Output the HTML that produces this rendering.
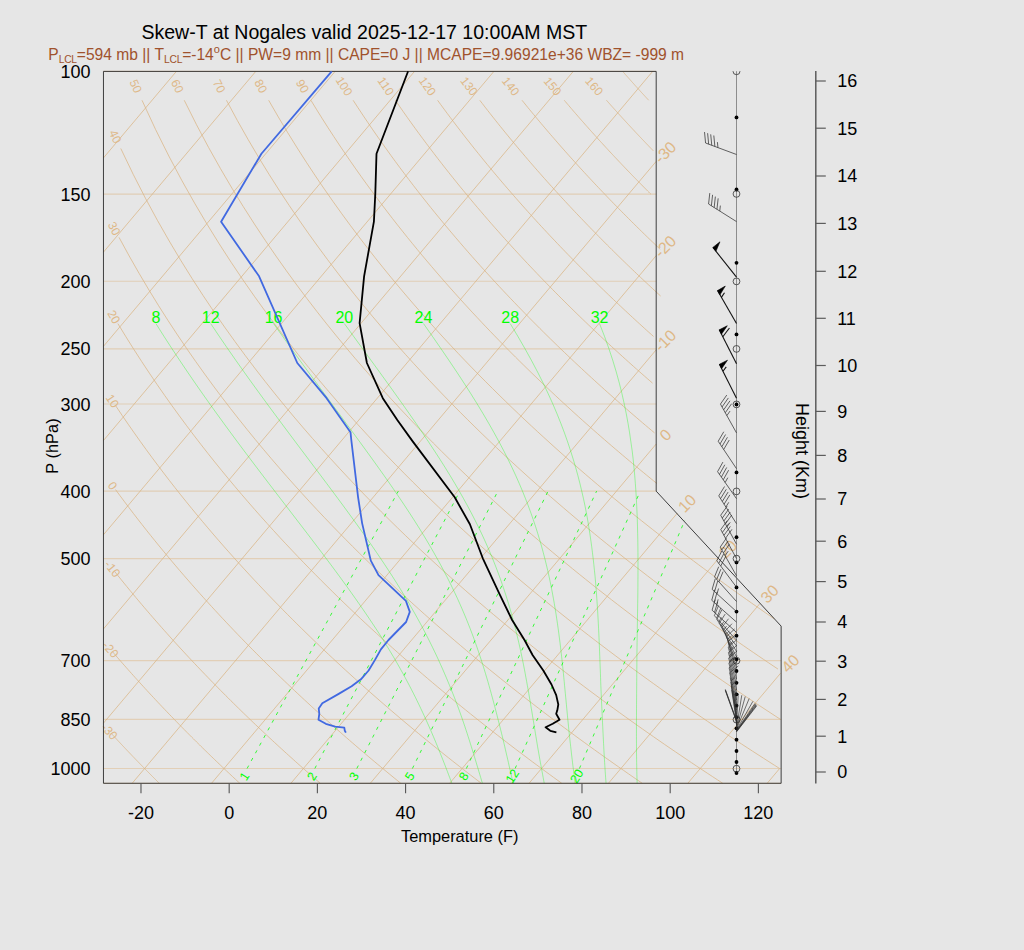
<!DOCTYPE html>
<html><head><meta charset="utf-8"><title>Skew-T</title>
<style>
html,body{margin:0;padding:0;background:#e6e6e6;}
body{width:1024px;height:950px;overflow:hidden;font-family:"Liberation Sans",sans-serif;}
svg{display:block;font-family:"Liberation Sans",sans-serif;}
</style></head><body>
<svg width="1024" height="950" viewBox="0 0 1024 950">
<rect width="1024" height="950" fill="#e6e6e6"/>
<line x1="103.46" y1="783.29" x2="781.13" y2="783.29" stroke="#DEB887" stroke-width="1.2" stroke-opacity="0.5"/>
<line x1="103.46" y1="768.52" x2="781.13" y2="768.52" stroke="#DEB887" stroke-width="1.2" stroke-opacity="0.5"/>
<line x1="103.46" y1="719.31" x2="781.13" y2="719.31" stroke="#DEB887" stroke-width="1.2" stroke-opacity="0.5"/>
<line x1="103.46" y1="660.53" x2="781.13" y2="660.53" stroke="#DEB887" stroke-width="1.2" stroke-opacity="0.5"/>
<line x1="103.46" y1="558.67" x2="718.33" y2="558.67" stroke="#DEB887" stroke-width="1.2" stroke-opacity="0.5"/>
<line x1="103.46" y1="491.11" x2="656.19" y2="491.11" stroke="#DEB887" stroke-width="1.2" stroke-opacity="0.5"/>
<line x1="103.46" y1="404.02" x2="656.19" y2="404.02" stroke="#DEB887" stroke-width="1.2" stroke-opacity="0.5"/>
<line x1="103.46" y1="348.82" x2="656.19" y2="348.82" stroke="#DEB887" stroke-width="1.2" stroke-opacity="0.5"/>
<line x1="103.46" y1="281.26" x2="656.19" y2="281.26" stroke="#DEB887" stroke-width="1.2" stroke-opacity="0.5"/>
<line x1="103.46" y1="194.17" x2="656.19" y2="194.17" stroke="#DEB887" stroke-width="1.2" stroke-opacity="0.5"/>
<line x1="103.46" y1="71.42" x2="656.19" y2="71.42" stroke="#DEB887" stroke-width="1.2" stroke-opacity="0.5"/>
<line x1="103.46" y1="157.92" x2="176.36" y2="71.42" stroke="#D9B380" stroke-width="0.8" stroke-opacity="0.9"/>
<line x1="103.46" y1="252.13" x2="255.74" y2="71.42" stroke="#D9B380" stroke-width="0.8" stroke-opacity="0.9"/>
<line x1="103.46" y1="346.33" x2="335.12" y2="71.42" stroke="#D9B380" stroke-width="0.8" stroke-opacity="0.9"/>
<line x1="103.46" y1="440.53" x2="414.5" y2="71.42" stroke="#D9B380" stroke-width="0.8" stroke-opacity="0.9"/>
<line x1="103.46" y1="534.74" x2="493.88" y2="71.42" stroke="#D9B380" stroke-width="0.8" stroke-opacity="0.9"/>
<line x1="103.46" y1="628.94" x2="573.26" y2="71.42" stroke="#D9B380" stroke-width="0.8" stroke-opacity="0.9"/>
<line x1="103.46" y1="723.14" x2="652.64" y2="71.42" stroke="#D9B380" stroke-width="0.8" stroke-opacity="0.9"/>
<line x1="132.16" y1="783.29" x2="656.19" y2="161.4" stroke="#D9B380" stroke-width="0.8" stroke-opacity="0.9"/>
<text x="656.19" y="161.4" font-size="16" fill="#DEB887" text-anchor="start" transform="rotate(-45 656.19 161.4)" dy="0.35em" dx="1.3">-30</text>
<line x1="211.54" y1="783.29" x2="656.19" y2="255.6" stroke="#D9B380" stroke-width="0.8" stroke-opacity="0.9"/>
<text x="656.19" y="255.6" font-size="16" fill="#DEB887" text-anchor="start" transform="rotate(-45 656.19 255.6)" dy="0.35em" dx="1.3">-20</text>
<line x1="290.92" y1="783.29" x2="656.19" y2="349.81" stroke="#D9B380" stroke-width="0.8" stroke-opacity="0.9"/>
<text x="656.19" y="349.81" font-size="16" fill="#DEB887" text-anchor="start" transform="rotate(-45 656.19 349.81)" dy="0.35em" dx="1.3">-10</text>
<line x1="370.3" y1="783.29" x2="656.19" y2="444.01" stroke="#D9B380" stroke-width="0.8" stroke-opacity="0.9"/>
<text x="656.19" y="444.01" font-size="16" fill="#DEB887" text-anchor="start" transform="rotate(-45 656.19 444.01)" dy="0.35em" dx="8.6">0</text>
<line x1="449.68" y1="783.29" x2="677.43" y2="513.01" stroke="#D9B380" stroke-width="0.8" stroke-opacity="0.9"/>
<text x="677.43" y="513.01" font-size="16" fill="#DEB887" text-anchor="start" transform="rotate(-45 677.43 513.01)" dy="0.35em" dx="4.8">10</text>
<line x1="529.06" y1="783.29" x2="718.33" y2="558.67" stroke="#D9B380" stroke-width="0.8" stroke-opacity="0.9"/>
<text x="718.33" y="558.67" font-size="16" fill="#DEB887" text-anchor="start" transform="rotate(-45 718.33 558.67)" dy="0.35em" dx="4.8">20</text>
<line x1="608.44" y1="783.29" x2="759.85" y2="603.6" stroke="#D9B380" stroke-width="0.8" stroke-opacity="0.9"/>
<text x="759.85" y="603.6" font-size="16" fill="#DEB887" text-anchor="start" transform="rotate(-45 759.85 603.6)" dy="0.35em" dx="4.8">30</text>
<line x1="687.82" y1="783.29" x2="780.55" y2="673.24" stroke="#D9B380" stroke-width="0.8" stroke-opacity="0.9"/>
<text x="780.55" y="673.24" font-size="16" fill="#DEB887" text-anchor="start" transform="rotate(-45 780.55 673.24)" dy="0.35em" dx="4.8">40</text>
<line x1="767.2" y1="783.29" x2="779.65" y2="768.52" stroke="#D9B380" stroke-width="0.8" stroke-opacity="0.9"/>
<polyline points="111.07,733.24 111.69,733.92 112.32,734.59 112.94,735.27 113.57,735.94 114.19,736.62 114.81,737.29 115.44,737.96 116.06,738.63 116.68,739.3 117.3,739.96 117.92,740.63 118.54,741.29 119.16,741.95 119.78,742.61 120.39,743.27 121.01,743.93 121.63,744.59 122.24,745.24 122.86,745.89 123.47,746.55 124.09,747.2 124.7,747.84 125.31,748.49 125.92,749.14 126.54,749.78 127.15,750.43 127.76,751.07 128.37,751.71 128.98,752.35 129.58,752.99 130.19,753.62 130.8,754.26 131.41,754.89 132.01,755.53 132.62,756.16 133.22,756.79 133.83,757.42 134.43,758.04 135.03,758.67 135.64,759.29 136.24,759.92 136.84,760.54 137.44,761.16 138.04,761.78 138.64,762.4 139.24,763.02 139.84,763.63 140.44,764.25 141.03,764.86 141.63,765.47 142.23,766.08 142.82,766.69 143.42,767.3 144.01,767.91 144.61,768.52 145.2,769.12 145.79,769.72 146.39,770.33 146.98,770.93 147.57,771.53 148.16,772.13 148.75,772.72 149.34,773.32 149.93,773.92 150.52,774.51 151.11,775.1 151.69,775.7 152.28,776.29 152.87,776.88 153.45,777.46 154.04,778.05 154.62,778.64 155.21,779.22 155.79,779.81 156.37,780.39 156.96,780.97 157.54,781.55 158.12,782.13 158.7,782.71 159.28,783.29 159.28,783.29" fill="none" stroke="#D9B380" stroke-width="0.8" stroke-opacity="0.9"/>
<text x="109.5" y="731.53" font-size="12" fill="#DEB887" text-anchor="middle" transform="rotate(47.43 109.5 731.53)" dy="0.35em">-30</text>
<polyline points="112.51,651.76 114.27,653.81 116.03,655.85 117.79,657.87 119.53,659.88 121.28,661.88 123.01,663.87 124.75,665.84 126.47,667.8 128.2,669.74 129.91,671.68 131.63,673.6 133.33,675.51 135.04,677.41 136.74,679.29 138.43,681.17 140.12,683.03 141.8,684.88 143.49,686.72 145.16,688.55 146.83,690.37 148.5,692.18 150.16,693.97 151.82,695.76 153.47,697.53 155.12,699.3 156.76,701.05 158.4,702.8 160.04,704.53 161.67,706.26 163.3,707.97 164.92,709.68 166.54,711.37 168.15,713.06 169.76,714.74 171.37,716.41 172.97,718.06 174.57,719.71 176.16,721.35 177.75,722.99 179.34,724.61 180.92,726.22 182.5,727.83 184.07,729.43 185.64,731.02 187.21,732.6 188.77,734.17 190.33,735.73 191.89,737.29 193.44,738.84 194.99,740.38 196.53,741.91 198.07,743.44 199.61,744.95 201.14,746.46 202.67,747.97 204.19,749.46 205.72,750.95 207.23,752.43 208.75,753.9 210.26,755.37 211.77,756.83 213.27,758.28 214.77,759.72 216.27,761.16 217.76,762.59 219.26,764.02 220.74,765.43 222.23,766.85 223.71,768.25 225.18,769.65 226.66,771.04 228.13,772.43 229.6,773.81 231.06,775.18 232.52,776.54 233.98,777.91 235.43,779.26 236.88,780.61 238.33,781.95 239.78,783.29 239.78,783.29" fill="none" stroke="#D9B380" stroke-width="0.8" stroke-opacity="0.9"/>
<text x="110.6" y="649.52" font-size="12" fill="#DEB887" text-anchor="middle" transform="rotate(49.48 110.6 649.52)" dy="0.35em">-20</text>
<polyline points="114.8,571.7 117.84,575.51 120.86,579.26 123.87,582.97 126.86,586.64 129.84,590.26 132.8,593.84 135.75,597.38 138.68,600.87 141.6,604.33 144.51,607.75 147.4,611.13 150.27,614.47 153.14,617.78 155.98,621.05 158.82,624.28 161.64,627.48 164.45,630.65 167.25,633.78 170.03,636.88 172.8,639.96 175.56,642.99 178.31,646 181.04,648.98 183.77,651.94 186.48,654.86 189.17,657.75 191.86,660.62 194.54,663.46 197.2,666.27 199.85,669.06 202.49,671.82 205.12,674.56 207.74,677.28 210.35,679.96 212.95,682.63 215.54,685.27 218.11,687.89 220.68,690.49 223.23,693.06 225.78,695.61 228.32,698.15 230.84,700.66 233.36,703.15 235.86,705.62 238.36,708.07 240.85,710.5 243.32,712.91 245.79,715.3 248.25,717.67 250.7,720.03 253.14,722.36 255.57,724.68 257.99,726.98 260.4,729.26 262.81,731.53 265.2,733.78 267.59,736.01 269.97,738.23 272.34,740.43 274.7,742.61 277.05,744.78 279.4,746.94 281.73,749.07 284.06,751.2 286.38,753.31 288.7,755.4 291,757.48 293.3,759.54 295.59,761.6 297.87,763.63 300.14,765.66 302.41,767.67 304.67,769.66 306.92,771.65 309.16,773.62 311.4,775.58 313.63,777.52 315.85,779.46 318.06,781.38 320.27,783.29 320.27,783.29" fill="none" stroke="#D9B380" stroke-width="0.8" stroke-opacity="0.9"/>
<text x="112.49" y="568.79" font-size="12" fill="#DEB887" text-anchor="middle" transform="rotate(51.61 112.49 568.79)" dy="0.35em">-10</text>
<polyline points="115.53,489.59 120.04,495.73 124.52,501.75 128.97,507.64 133.38,513.43 137.76,519.11 142.11,524.68 146.42,530.15 150.7,535.52 154.96,540.8 159.18,545.99 163.37,551.1 167.53,556.11 171.66,561.05 175.77,565.91 179.84,570.69 183.89,575.39 187.91,580.03 191.91,584.59 195.87,589.09 199.82,593.52 203.73,597.88 207.63,602.19 211.5,606.43 215.34,610.62 219.16,614.75 222.96,618.82 226.73,622.84 230.48,626.8 234.21,630.72 237.91,634.58 241.6,638.4 245.26,642.17 248.9,645.89 252.52,649.57 256.13,653.2 259.71,656.79 263.27,660.34 266.81,663.85 270.33,667.31 273.83,670.74 277.31,674.13 280.78,677.48 284.23,680.79 287.66,684.07 291.07,687.32 294.46,690.53 297.84,693.7 301.19,696.84 304.54,699.96 307.86,703.03 311.17,706.08 314.46,709.1 317.74,712.09 321,715.05 324.24,717.98 327.47,720.88 330.69,723.75 333.89,726.6 337.07,729.42 340.24,732.21 343.39,734.98 346.53,737.73 349.66,740.45 352.77,743.14 355.87,745.81 358.95,748.46 362.02,751.08 365.08,753.69 368.12,756.27 371.15,758.83 374.17,761.36 377.18,763.88 380.17,766.37 383.15,768.85 386.12,771.3 389.07,773.74 392.01,776.15 394.94,778.55 397.86,780.93 400.77,783.29 400.77,783.29" fill="none" stroke="#D9B380" stroke-width="0.8" stroke-opacity="0.9"/>
<text x="112.74" y="485.77" font-size="12" fill="#DEB887" text-anchor="middle" transform="rotate(54 112.74 485.77)" dy="0.35em">0</text>
<polyline points="115.85,406.03 122.04,415.26 128.18,424.22 134.25,432.92 140.25,441.38 146.19,449.6 152.07,457.61 157.9,465.42 163.66,473.02 169.37,480.44 175.02,487.69 180.62,494.76 186.16,501.67 191.66,508.43 197.1,515.04 202.49,521.51 207.84,527.84 213.13,534.05 218.38,540.13 223.59,546.09 228.75,551.93 233.87,557.67 238.94,563.29 243.98,568.82 248.97,574.25 253.92,579.58 258.83,584.81 263.71,589.96 268.55,595.03 273.35,600 278.11,604.9 282.84,609.72 287.53,614.47 292.19,619.14 296.82,623.74 301.41,628.28 305.97,632.74 310.5,637.14 314.99,641.48 319.46,645.76 323.89,649.97 328.3,654.13 332.68,658.23 337.02,662.28 341.34,666.27 345.64,670.22 349.9,674.11 354.14,677.95 358.35,681.74 362.54,685.49 366.7,689.19 370.83,692.85 374.94,696.46 379.02,700.03 383.09,703.56 387.12,707.05 391.14,710.5 395.13,713.91 399.1,717.28 403.04,720.61 406.97,723.91 410.87,727.17 414.75,730.4 418.61,733.59 422.45,736.75 426.27,739.88 430.07,742.98 433.85,746.04 437.6,749.07 441.34,752.08 445.06,755.05 448.77,758 452.45,760.91 456.11,763.8 459.76,766.66 463.39,769.5 467,772.31 470.59,775.09 474.16,777.85 477.72,780.58 481.26,783.29 481.26,783.29" fill="none" stroke="#D9B380" stroke-width="0.8" stroke-opacity="0.9"/>
<text x="112.5" y="400.97" font-size="12" fill="#DEB887" text-anchor="middle" transform="rotate(56.61 112.5 400.97)" dy="0.35em">10</text>
<polyline points="117.87,323.58 125.93,336.78 133.87,349.42 141.71,361.57 149.44,373.24 157.07,384.48 164.6,395.32 172.03,405.78 179.36,415.89 186.61,425.68 193.76,435.16 200.83,444.35 207.81,453.27 214.71,461.94 221.53,470.36 228.27,478.56 234.93,486.54 241.53,494.31 248.05,501.89 254.5,509.29 260.88,516.51 267.19,523.56 273.44,530.45 279.63,537.19 285.76,543.78 291.83,550.23 297.83,556.54 303.79,562.73 309.68,568.79 315.52,574.73 321.31,580.56 327.05,586.28 332.73,591.89 338.37,597.41 343.95,602.82 349.49,608.13 354.99,613.36 360.44,618.5 365.84,623.55 371.2,628.52 376.52,633.4 381.79,638.21 387.02,642.95 392.22,647.61 397.37,652.2 402.49,656.73 407.57,661.18 412.61,665.57 417.61,669.9 422.58,674.17 427.51,678.38 432.41,682.53 437.28,686.62 442.11,690.66 446.91,694.65 451.67,698.59 456.41,702.47 461.11,706.31 465.78,710.09 470.43,713.83 475.04,717.53 479.63,721.18 484.18,724.78 488.71,728.35 493.21,731.87 497.68,735.35 502.13,738.8 506.55,742.2 510.94,745.57 515.31,748.9 519.65,752.19 523.97,755.45 528.26,758.67 532.53,761.86 536.77,765.01 540.99,768.14 545.19,771.23 549.37,774.29 553.52,777.32 557.65,780.32 561.76,783.29 561.76,783.29" fill="none" stroke="#D9B380" stroke-width="0.8" stroke-opacity="0.9"/>
<text x="113.9" y="316.92" font-size="12" fill="#DEB887" text-anchor="middle" transform="rotate(59.29 113.9 316.92)" dy="0.35em">20</text>
<polyline points="119.03,237.36 129.18,255.96 139.17,273.48 148.99,290.05 158.64,305.75 168.14,320.68 177.48,334.91 186.67,348.5 195.71,361.51 204.62,373.98 213.39,385.95 222.03,397.48 230.54,408.57 238.93,419.28 247.2,429.62 255.35,439.62 263.4,449.3 271.34,458.68 279.17,467.78 286.9,476.61 294.54,485.19 302.08,493.53 309.53,501.65 316.89,509.56 324.17,517.27 331.36,524.79 338.47,532.12 345.5,539.28 352.45,546.28 359.33,553.11 366.14,559.8 372.87,566.34 379.54,572.75 386.14,579.02 392.67,585.16 399.14,591.18 405.55,597.09 411.9,602.88 418.19,608.56 424.42,614.14 430.59,619.61 436.71,624.99 442.77,630.28 448.78,635.47 454.74,640.58 460.65,645.6 466.51,650.54 472.32,655.4 478.09,660.19 483.81,664.9 489.48,669.53 495.11,674.1 500.69,678.6 506.23,683.04 511.73,687.41 517.19,691.71 522.61,695.96 527.99,700.15 533.33,704.28 538.63,708.36 543.9,712.38 549.13,716.35 554.32,720.27 559.48,724.13 564.6,727.95 569.69,731.72 574.74,735.45 579.76,739.13 584.75,742.76 589.7,746.35 594.63,749.9 599.52,753.41 604.39,756.88 609.22,760.31 614.02,763.7 618.8,767.06 623.55,770.37 628.26,773.65 632.95,776.9 637.62,780.11 642.25,783.29 642.25,783.29" fill="none" stroke="#D9B380" stroke-width="0.8" stroke-opacity="0.9"/>
<text x="114.34" y="228.48" font-size="12" fill="#DEB887" text-anchor="middle" transform="rotate(62.32 114.34 228.48)" dy="0.35em">30</text>
<polyline points="120.79,148.51 133.23,174.39 145.44,198.23 157.42,220.33 169.16,240.92 180.68,260.21 191.96,278.34 203.03,295.44 213.89,311.63 224.55,327 235.02,341.62 245.29,355.57 255.39,368.91 265.32,381.68 275.08,393.94 284.68,405.72 294.12,417.05 303.42,427.98 312.58,438.53 321.6,448.72 330.49,458.58 339.25,468.13 347.89,477.39 356.41,486.37 364.82,495.1 373.11,503.58 381.3,511.83 389.39,519.85 397.37,527.68 405.26,535.3 413.06,542.74 420.76,550 428.38,557.09 435.9,564.02 443.35,570.79 450.71,577.41 458,583.9 465.2,590.24 472.34,596.46 479.4,602.55 486.39,608.52 493.31,614.38 500.16,620.12 506.95,625.76 513.67,631.29 520.33,636.73 526.93,642.07 533.47,647.31 539.95,652.47 546.37,657.54 552.74,662.53 559.06,667.43 565.32,672.26 571.52,677.01 577.68,681.69 583.79,686.3 589.85,690.84 595.86,695.31 601.82,699.72 607.74,704.06 613.61,708.34 619.44,712.57 625.22,716.73 630.96,720.84 636.66,724.89 642.32,728.89 647.94,732.84 653.52,736.73 659.06,740.58 664.56,744.38 670.03,748.13 675.46,751.83 680.85,755.49 686.2,759.11 691.53,762.69 696.81,766.22 702.07,769.71 707.28,773.16 712.47,776.57 717.63,779.95 722.75,783.29 722.75,783.29" fill="none" stroke="#D9B380" stroke-width="0.8" stroke-opacity="0.9"/>
<text x="115.32" y="136.54" font-size="12" fill="#DEB887" text-anchor="middle" transform="rotate(65.63 115.32 136.54)" dy="0.35em">40</text>
<polyline points="142.01,100.27 155.55,129.44 168.83,156.04 181.84,180.49 194.57,203.12 207.03,224.17 219.23,243.85 231.18,262.33 242.88,279.75 254.35,296.22 265.6,311.83 276.63,326.69 287.45,340.84 298.08,354.37 308.51,367.32 318.77,379.73 328.85,391.66 338.76,403.13 348.51,414.19 358.11,424.85 367.57,435.16 376.88,445.12 386.05,454.77 395.09,464.12 404,473.18 412.79,481.99 421.46,490.54 430.02,498.86 438.46,506.96 446.8,514.85 455.03,522.54 463.17,530.03 471.2,537.35 479.15,544.49 486.99,551.47 494.75,558.29 502.43,564.96 510.02,571.49 517.53,577.88 524.96,584.13 532.31,590.26 539.58,596.27 546.78,602.16 553.91,607.94 560.98,613.61 567.97,619.18 574.9,624.65 581.76,630.01 588.56,635.29 595.29,640.48 601.97,645.57 608.59,650.59 615.15,655.52 621.65,660.37 628.1,665.15 634.5,669.85 640.84,674.48 647.13,679.04 653.37,683.53 659.56,687.96 665.7,692.32 671.8,696.62 677.85,700.87 683.85,705.05 689.8,709.17 695.72,713.24 701.59,717.26 707.42,721.22 713.2,725.13 718.95,729 724.65,732.81 730.32,736.58 735.95,740.3 741.53,743.97 747.09,747.6 752.6,751.19 758.08,754.73 763.52,758.24 768.93,761.7 774.31,765.13 779.65,768.52 779.65,768.52" fill="none" stroke="#D9B380" stroke-width="0.8" stroke-opacity="0.9"/>
<text x="135.85" y="86.19" font-size="12" fill="#DEB887" text-anchor="middle" transform="rotate(66.6 135.85 86.19)" dy="0.35em">50</text>
<polyline points="184.24,100.27 196.5,124.71 208.53,147.33 220.33,168.38 231.89,188.05 243.23,206.53 254.35,223.94 265.26,240.4 275.96,256.02 286.47,270.87 296.79,285.02 306.93,298.55 316.9,311.49 326.69,323.91 336.33,335.83 345.81,347.3 355.14,358.36 364.33,369.02 373.38,379.32 382.3,389.28 391.09,398.93 399.76,408.28 408.3,417.34 416.73,426.15 425.05,434.7 433.27,443.02 441.38,451.12 449.38,459 457.29,466.69 465.11,474.19 472.83,481.5 480.46,488.64 488.01,495.62 495.47,502.44 502.85,509.11 510.15,515.64 517.37,522.02 524.52,528.28 531.6,534.41 538.6,540.42 545.53,546.31 552.4,552.09 559.2,557.76 565.93,563.32 572.6,568.79 579.21,574.16 585.77,579.43 592.26,584.62 598.69,589.72 605.07,594.73 611.39,599.66 617.66,604.51 623.88,609.29 630.05,613.99 636.16,618.62 642.23,623.18 648.25,627.67 654.22,632.1 660.15,636.46 666.03,640.76 671.86,645 677.65,649.19 683.4,653.31 689.11,657.38 694.77,661.4 700.4,665.36 705.99,669.27 711.53,673.13 717.04,676.95 722.51,680.71 727.94,684.43 733.34,688.11 738.7,691.74 744.03,695.33 749.32,698.87 754.58,702.38 759.81,705.84 765,709.27 770.16,712.65 775.28,716 780.38,719.31 780.38,719.31" fill="none" stroke="#D9B380" stroke-width="0.8" stroke-opacity="0.9"/>
<text x="177.51" y="86.19" font-size="12" fill="#DEB887" text-anchor="middle" transform="rotate(64.72 177.51 86.19)" dy="0.35em">60</text>
<polyline points="226.46,100.27 237.4,120.56 248.15,139.58 258.7,157.47 269.07,174.36 279.25,190.36 289.26,205.56 299.09,220.03 308.76,233.84 318.27,247.04 327.62,259.7 336.83,271.85 345.89,283.53 354.81,294.77 363.6,305.61 372.26,316.08 380.8,326.2 389.21,335.99 397.51,345.47 405.7,354.67 413.78,363.59 421.75,372.26 429.62,380.69 437.4,388.89 445.08,396.87 452.66,404.65 460.16,412.23 467.57,419.63 474.9,426.85 482.14,433.9 489.3,440.79 496.39,447.53 503.4,454.13 510.34,460.58 517.2,466.89 524,473.08 530.73,479.15 537.39,485.09 543.99,490.92 550.52,496.64 556.99,502.26 563.41,507.77 569.76,513.18 576.06,518.5 582.3,523.73 588.49,528.87 594.62,533.92 600.71,538.89 606.74,543.78 612.72,548.59 618.65,553.32 624.53,557.99 630.37,562.58 636.16,567.1 641.91,571.56 647.61,575.95 653.27,580.28 658.89,584.55 664.46,588.76 670,592.91 675.49,597.01 680.94,601.05 686.36,605.03 691.74,608.97 697.08,612.85 702.38,616.69 707.65,620.48 712.88,624.22 718.08,627.91 723.24,631.57 728.37,635.17 733.47,638.74 738.54,642.26 743.57,645.74 748.57,649.19 753.54,652.59 758.48,655.96 763.39,659.29 768.27,662.58 773.12,665.84 777.95,669.06 777.95,669.06" fill="none" stroke="#D9B380" stroke-width="0.8" stroke-opacity="0.9"/>
<text x="219.18" y="86.19" font-size="12" fill="#DEB887" text-anchor="middle" transform="rotate(62.9 219.18 86.19)" dy="0.35em">70</text>
<polyline points="268.68,100.27 278.34,117 287.84,132.86 297.19,147.92 306.38,162.27 315.43,175.97 324.35,189.08 333.12,201.64 341.76,213.71 350.28,225.31 358.67,236.48 366.94,247.26 375.09,257.66 383.14,267.72 391.07,277.46 398.9,286.89 406.63,296.03 414.26,304.91 421.79,313.54 429.23,321.93 436.58,330.09 443.85,338.03 451.03,345.78 458.12,353.33 465.14,360.69 472.08,367.89 478.94,374.91 485.74,381.78 492.46,388.49 499.11,395.06 505.69,401.48 512.2,407.78 518.65,413.94 525.04,419.99 531.37,425.91 537.64,431.72 543.85,437.42 550,443.02 556.1,448.52 562.14,453.91 568.13,459.21 574.07,464.43 579.96,469.55 585.79,474.59 591.58,479.54 597.32,484.42 603.02,489.21 608.67,493.94 614.27,498.59 619.83,503.17 625.35,507.68 630.82,512.13 636.26,516.51 641.65,520.83 647,525.08 652.32,529.28 657.6,533.42 662.83,537.51 668.04,541.54 673.2,545.52 678.33,549.45 683.43,553.32 688.49,557.15 693.52,560.93 698.51,564.66 703.47,568.35 708.4,571.99 713.3,575.59 718.17,579.15 723,582.67 727.81,586.14 732.59,589.58 737.34,592.98 742.05,596.34 746.75,599.66 751.41,602.95 756.05,606.2 760.65,609.42 765.24,612.6 769.79,615.75 774.32,618.87 774.32,618.87" fill="none" stroke="#D9B380" stroke-width="0.8" stroke-opacity="0.9"/>
<text x="260.84" y="86.19" font-size="12" fill="#DEB887" text-anchor="middle" transform="rotate(61.14 260.84 86.19)" dy="0.35em">80</text>
<polyline points="310.91,100.27 316.71,109.75 322.46,118.95 328.15,127.87 333.79,136.54 339.37,144.97 344.9,153.17 350.37,161.15 355.8,168.93 361.17,176.51 366.49,183.91 371.77,191.13 376.99,198.18 382.17,205.07 387.3,211.81 392.39,218.4 397.43,224.85 402.44,231.17 407.39,237.36 412.31,243.42 417.19,249.37 422.02,255.2 426.82,260.92 431.58,266.53 436.3,272.04 440.99,277.46 445.64,282.77 450.25,288 454.83,293.14 459.37,298.19 463.88,303.16 468.36,308.05 472.8,312.86 477.22,317.59 481.6,322.26 485.95,326.85 490.28,331.37 494.57,335.83 498.83,340.22 503.07,344.55 507.27,348.82 511.45,353.03 515.6,357.18 519.73,361.28 523.83,365.32 527.9,369.3 531.95,373.24 535.97,377.12 539.97,380.96 543.94,384.75 547.89,388.49 551.82,392.18 555.72,395.83 559.6,399.44 563.46,403.01 567.29,406.53 571.11,410.01 574.9,413.46 578.67,416.86 582.42,420.23 586.15,423.56 589.86,426.85 593.55,430.11 597.22,433.33 600.87,436.52 604.5,439.68 608.11,442.8 611.7,445.89 615.28,448.95 618.84,451.98 622.37,454.98 625.89,457.95 629.4,460.89 632.88,463.8 636.35,466.69 639.8,469.55 643.24,472.38 646.66,475.18 650.06,477.96 653.45,480.72 656.82,483.45 656.82,483.45" fill="none" stroke="#D9B380" stroke-width="0.8" stroke-opacity="0.9"/>
<text x="302.51" y="86.19" font-size="12" fill="#DEB887" text-anchor="middle" transform="rotate(59.43 302.51 86.19)" dy="0.35em">90</text>
<polyline points="353.13,100.27 358,107.75 362.82,115.04 367.61,122.17 372.35,129.13 377.06,135.93 381.73,142.58 386.36,149.09 390.95,155.47 395.51,161.71 400.03,167.83 404.52,173.82 408.97,179.7 413.39,185.47 417.77,191.13 422.12,196.68 426.44,202.14 430.73,207.5 434.99,212.76 439.22,217.94 443.41,223.02 447.58,228.03 451.72,232.95 455.83,237.79 459.91,242.56 463.96,247.26 467.99,251.88 471.99,256.43 475.96,260.92 479.91,265.34 483.83,269.69 487.73,273.99 491.61,278.22 495.45,282.4 499.28,286.52 503.08,290.58 506.86,294.59 510.62,298.55 514.35,302.45 518.06,306.31 521.75,310.12 525.42,313.88 529.06,317.59 532.69,321.26 536.3,324.89 539.88,328.47 543.45,332.01 546.99,335.51 550.52,338.97 554.03,342.39 557.51,345.78 560.98,349.12 564.44,352.43 567.87,355.7 571.29,358.94 574.68,362.15 578.06,365.32 581.43,368.45 584.77,371.56 588.1,374.63 591.42,377.67 594.71,380.69 597.99,383.67 601.26,386.62 604.51,389.55 607.74,392.45 610.96,395.32 614.16,398.16 617.35,400.97 620.53,403.76 623.68,406.53 626.83,409.27 629.96,411.98 633.08,414.68 636.18,417.34 639.27,419.99 642.34,422.61 645.4,425.21 648.45,427.78 651.48,430.34 654.51,432.87 654.51,432.87" fill="none" stroke="#D9B380" stroke-width="0.8" stroke-opacity="0.9"/>
<text x="344.17" y="86.19" font-size="12" fill="#DEB887" text-anchor="middle" transform="rotate(57.79 344.17 86.19)" dy="0.35em">100</text>
<polyline points="395.35,100.27 399.35,106.06 403.32,111.75 407.26,117.33 411.17,122.8 415.06,128.19 418.92,133.47 422.76,138.67 426.57,143.78 430.35,148.8 434.11,153.74 437.85,158.61 441.56,163.39 445.25,168.1 448.92,172.74 452.56,177.31 456.18,181.81 459.78,186.25 463.36,190.62 466.92,194.92 470.45,199.17 473.96,203.36 477.46,207.5 480.93,211.57 484.38,215.59 487.81,219.56 491.23,223.48 494.62,227.35 498,231.17 501.35,234.94 504.69,238.67 508.01,242.35 511.31,245.98 514.6,249.58 517.87,253.13 521.12,256.64 524.35,260.11 527.56,263.54 530.76,266.93 533.95,270.28 537.11,273.6 540.26,276.88 543.4,280.13 546.52,283.34 549.62,286.52 552.71,289.66 555.79,292.77 558.85,295.85 561.89,298.9 564.92,301.92 567.94,304.91 570.94,307.87 573.93,310.81 576.91,313.71 579.87,316.59 582.82,319.43 585.75,322.26 588.67,325.05 591.58,327.82 594.48,330.57 597.36,333.29 600.23,335.99 603.09,338.66 605.93,341.31 608.77,343.94 611.59,346.54 614.4,349.12 617.2,351.68 619.98,354.22 622.76,356.74 625.52,359.23 628.27,361.71 631.01,364.17 633.74,366.6 636.46,369.02 639.17,371.42 641.87,373.8 644.56,376.16 647.23,378.5 649.9,380.82 652.56,383.13 652.56,383.13" fill="none" stroke="#D9B380" stroke-width="0.8" stroke-opacity="0.9"/>
<text x="385.84" y="86.19" font-size="12" fill="#DEB887" text-anchor="middle" transform="rotate(56.2 385.84 86.19)" dy="0.35em">110</text>
<polyline points="437.58,100.27 440.81,104.71 444.03,109.09 447.23,113.4 450.41,117.65 453.58,121.85 456.72,125.98 459.85,130.06 462.97,134.09 466.06,138.06 469.15,141.98 472.21,145.86 475.26,149.68 478.29,153.45 481.31,157.18 484.31,160.87 487.3,164.51 490.27,168.1 493.23,171.66 496.17,175.17 499.1,178.64 502.01,182.07 504.91,185.47 507.8,188.82 510.67,192.14 513.53,195.43 516.37,198.68 519.2,201.89 522.02,205.07 524.83,208.22 527.62,211.33 530.4,214.42 533.17,217.47 535.92,220.49 538.66,223.48 541.39,226.44 544.11,229.38 546.82,232.28 549.51,235.16 552.19,238.01 554.87,240.84 557.53,243.64 560.17,246.41 562.81,249.16 565.44,251.88 568.05,254.58 570.66,257.25 573.25,259.9 575.84,262.53 578.41,265.14 580.97,267.72 583.53,270.28 586.07,272.82 588.6,275.34 591.12,277.84 593.64,280.32 596.14,282.77 598.63,285.21 601.12,287.63 603.59,290.03 606.05,292.41 608.51,294.77 610.96,297.11 613.39,299.44 615.82,301.75 618.24,304.04 620.65,306.31 623.05,308.57 625.45,310.81 627.83,313.03 630.21,315.24 632.57,317.43 634.93,319.6 637.28,321.76 639.63,323.91 641.96,326.03 644.29,328.15 646.6,330.25 648.91,332.33 651.22,334.4 653.51,336.46 653.51,336.46" fill="none" stroke="#D9B380" stroke-width="0.8" stroke-opacity="0.9"/>
<text x="427.5" y="86.19" font-size="12" fill="#DEB887" text-anchor="middle" transform="rotate(54.66 427.5 86.19)" dy="0.35em">120</text>
<polyline points="479.8,100.27 482.43,103.69 485.04,107.07 487.64,110.42 490.24,113.73 492.82,117 495.39,120.24 497.95,123.44 500.49,126.61 503.03,129.75 505.55,132.86 508.07,135.93 510.57,138.97 513.07,141.98 515.55,144.97 518.02,147.92 520.48,150.85 522.94,153.74 525.38,156.61 527.81,159.46 530.23,162.27 532.64,165.06 535.05,167.83 537.44,170.57 539.83,173.28 542.2,175.97 544.57,178.64 546.92,181.28 549.27,183.91 551.61,186.5 553.94,189.08 556.26,191.64 558.57,194.17 560.87,196.68 563.17,199.17 565.45,201.64 567.73,204.1 570,206.53 572.26,208.94 574.51,211.33 576.76,213.71 578.99,216.06 581.22,218.4 583.44,220.72 585.66,223.02 587.86,225.31 590.06,227.58 592.25,229.83 594.43,232.06 596.61,234.28 598.77,236.48 600.93,238.67 603.09,240.84 605.23,242.99 607.37,245.13 609.5,247.26 611.62,249.37 613.74,251.46 615.85,253.54 617.95,255.61 620.05,257.66 622.14,259.7 624.22,261.73 626.3,263.74 628.37,265.73 630.43,267.72 632.49,269.69 634.54,271.65 636.58,273.6 638.62,275.53 640.65,277.46 642.68,279.37 644.7,281.26 646.71,283.15 648.71,285.02 650.72,286.89 652.71,288.74 654.7,290.58 656.68,292.41 658.66,294.23 660.63,296.03 660.63,296.03" fill="none" stroke="#D9B380" stroke-width="0.8" stroke-opacity="0.9"/>
<text x="469.17" y="86.19" font-size="12" fill="#DEB887" text-anchor="middle" transform="rotate(53.19 469.17 86.19)" dy="0.35em">130</text>
<polyline points="522.02,100.27 523.96,102.67 525.89,105.05 527.81,107.41 529.73,109.75 531.64,112.08 533.54,114.39 535.44,116.68 537.34,118.95 539.22,121.2 541.1,123.44 542.98,125.67 544.85,127.87 546.71,130.06 548.57,132.24 550.42,134.4 552.26,136.54 554.11,138.67 555.94,140.78 557.77,142.88 559.59,144.97 561.41,147.04 563.22,149.09 565.03,151.14 566.83,153.17 568.63,155.18 570.42,157.18 572.21,159.17 573.99,161.15 575.76,163.11 577.53,165.06 579.3,167 581.06,168.93 582.81,170.84 584.56,172.74 586.31,174.63 588.05,176.51 589.79,178.37 591.52,180.23 593.24,182.07 594.96,183.91 596.68,185.73 598.39,187.54 600.1,189.34 601.8,191.13 603.5,192.9 605.19,194.67 606.88,196.43 608.56,198.18 610.24,199.92 611.92,201.64 613.59,203.36 615.26,205.07 616.92,206.77 618.57,208.46 620.23,210.14 621.88,211.81 623.52,213.47 625.16,215.12 626.8,216.77 628.43,218.4 630.06,220.03 631.68,221.64 633.3,223.25 634.92,224.85 636.53,226.44 638.14,228.03 639.74,229.6 641.34,231.17 642.94,232.73 644.53,234.28 646.11,235.82 647.7,237.36 649.28,238.89 650.85,240.4 652.43,241.92 654,243.42 655.56,244.92 657.12,246.41 658.68,247.89 660.23,249.37 660.23,249.37" fill="none" stroke="#D9B380" stroke-width="0.8" stroke-opacity="0.9"/>
<text x="510.83" y="86.19" font-size="12" fill="#DEB887" text-anchor="middle" transform="rotate(51.76 510.83 86.19)" dy="0.35em">140</text>
<polyline points="564.24,100.27 565.41,101.64 566.57,103.01 567.72,104.37 568.88,105.73 570.03,107.07 571.18,108.42 572.33,109.75 573.48,111.08 574.62,112.41 575.76,113.73 576.9,115.04 578.04,116.35 579.18,117.65 580.31,118.95 581.44,120.24 582.57,121.52 583.7,122.8 584.82,124.08 585.95,125.35 587.07,126.61 588.19,127.87 589.3,129.13 590.42,130.37 591.53,131.62 592.64,132.86 593.75,134.09 594.85,135.32 595.96,136.54 597.06,137.76 598.16,138.97 599.26,140.18 600.36,141.38 601.45,142.58 602.55,143.78 603.64,144.97 604.73,146.15 605.81,147.33 606.9,148.51 607.98,149.68 609.06,150.85 610.14,152.01 611.22,153.17 612.29,154.32 613.37,155.47 614.44,156.61 615.51,157.75 616.58,158.89 617.64,160.02 618.71,161.15 619.77,162.27 620.83,163.39 621.89,164.51 622.95,165.62 624.01,166.72 625.06,167.83 626.11,168.93 627.16,170.02 628.21,171.11 629.26,172.2 630.3,173.28 631.34,174.36 632.39,175.44 633.43,176.51 634.46,177.58 635.5,178.64 636.54,179.7 637.57,180.76 638.6,181.81 639.63,182.86 640.66,183.91 641.68,184.95 642.71,185.99 643.73,187.02 644.75,188.05 645.77,189.08 646.79,190.11 647.81,191.13 648.82,192.14 649.84,193.16 650.85,194.17 650.85,194.17" fill="none" stroke="#D9B380" stroke-width="0.8" stroke-opacity="0.9"/>
<text x="552.5" y="86.19" font-size="12" fill="#DEB887" text-anchor="middle" transform="rotate(50.4 552.5 86.19)" dy="0.35em">150</text>
<polyline points="606.47,100.27 607.08,100.96 607.68,101.64 608.29,102.33 608.9,103.01 609.5,103.69 610.11,104.37 610.72,105.05 611.32,105.73 611.92,106.4 612.53,107.07 613.13,107.75 613.73,108.42 614.33,109.09 614.93,109.75 615.53,110.42 616.13,111.08 616.73,111.75 617.33,112.41 617.93,113.07 618.53,113.73 619.12,114.39 619.72,115.04 620.32,115.7 620.91,116.35 621.5,117 622.1,117.65 622.69,118.3 623.28,118.95 623.88,119.59 624.47,120.24 625.06,120.88 625.65,121.52 626.24,122.17 626.83,122.8 627.42,123.44 628.01,124.08 628.59,124.71 629.18,125.35 629.77,125.98 630.35,126.61 630.94,127.24 631.52,127.87 632.11,128.5 632.69,129.13 633.27,129.75 633.86,130.37 634.44,131 635.02,131.62 635.6,132.24 636.18,132.86 636.76,133.47 637.34,134.09 637.92,134.7 638.5,135.32 639.08,135.93 639.65,136.54 640.23,137.15 640.81,137.76 641.38,138.37 641.96,138.97 642.53,139.58 643.11,140.18 643.68,140.78 644.25,141.38 644.83,141.98 645.4,142.58 645.97,143.18 646.54,143.78 647.11,144.37 647.68,144.97 648.25,145.56 648.82,146.15 649.39,146.74 649.95,147.33 650.52,147.92 651.09,148.51 651.66,149.09 652.22,149.68 652.79,150.26 653.35,150.85 653.35,150.85" fill="none" stroke="#D9B380" stroke-width="0.8" stroke-opacity="0.9"/>
<text x="594.16" y="86.19" font-size="12" fill="#DEB887" text-anchor="middle" transform="rotate(49.08 594.16 86.19)" dy="0.35em">160</text>
<polyline points="622.69,71.42 623.02,71.79 623.35,72.17 623.68,72.55 624.02,72.93 624.35,73.3 624.68,73.68 625.01,74.05 625.34,74.43 625.67,74.8 626,75.18 626.33,75.55 626.66,75.92 626.99,76.3 627.32,76.67 627.65,77.04 627.98,77.41 628.31,77.78 628.64,78.15 628.97,78.52 629.29,78.89 629.62,79.26 629.95,79.63 630.28,80 630.61,80.36 630.93,80.73 631.26,81.1 631.59,81.46 631.92,81.83 632.24,82.2 632.57,82.56 632.9,82.93 633.22,83.29 633.55,83.65 633.88,84.02 634.2,84.38 634.53,84.74 634.85,85.1 635.18,85.47 635.5,85.83 635.83,86.19 636.15,86.55 636.48,86.91 636.8,87.27 637.13,87.63 637.45,87.98 637.77,88.34 638.1,88.7 638.42,89.06 638.75,89.41 639.07,89.77 639.39,90.13 639.72,90.48 640.04,90.84 640.36,91.19 640.68,91.55 641.01,91.9 641.33,92.25 641.65,92.61 641.97,92.96 642.29,93.31 642.61,93.66 642.94,94.01 643.26,94.36 643.58,94.72 643.9,95.07 644.22,95.42 644.54,95.76 644.86,96.11 645.18,96.46 645.5,96.81 645.82,97.16 646.14,97.51 646.46,97.85 646.78,98.2 647.1,98.55 647.42,98.89 647.73,99.24 648.05,99.58 648.37,99.93 648.69,100.27 648.69,100.27" fill="none" stroke="#D9B380" stroke-width="0.8" stroke-opacity="0.9"/>
<line x1="579.44" y1="768.52" x2="684.96" y2="519.97" stroke="#00FF00" stroke-width="0.9" stroke-dasharray="3.3,5.4" stroke-opacity="0.85"/>
<text x="576.64" y="776.12" font-size="12.5" fill="#00FF00" text-anchor="middle" transform="rotate(-58 576.64 776.12)" dy="0.35em">20</text>
<line x1="515.11" y1="768.52" x2="640.33" y2="491.11" stroke="#00FF00" stroke-width="0.9" stroke-dasharray="3.3,5.4" stroke-opacity="0.85"/>
<text x="512.31" y="776.12" font-size="12.5" fill="#00FF00" text-anchor="middle" transform="rotate(-58 512.31 776.12)" dy="0.35em">12</text>
<line x1="466.36" y1="768.52" x2="596.61" y2="491.11" stroke="#00FF00" stroke-width="0.9" stroke-dasharray="3.3,5.4" stroke-opacity="0.85"/>
<text x="463.56" y="776.12" font-size="12.5" fill="#00FF00" text-anchor="middle" transform="rotate(-58 463.56 776.12)" dy="0.35em">8</text>
<line x1="412.42" y1="768.52" x2="548.08" y2="491.11" stroke="#00FF00" stroke-width="0.9" stroke-dasharray="3.3,5.4" stroke-opacity="0.85"/>
<text x="409.62" y="776.12" font-size="12.5" fill="#00FF00" text-anchor="middle" transform="rotate(-58 409.62 776.12)" dy="0.35em">5</text>
<line x1="356.81" y1="768.52" x2="497.89" y2="491.11" stroke="#00FF00" stroke-width="0.9" stroke-dasharray="3.3,5.4" stroke-opacity="0.85"/>
<text x="354.01" y="776.12" font-size="12.5" fill="#00FF00" text-anchor="middle" transform="rotate(-58 354.01 776.12)" dy="0.35em">3</text>
<line x1="314.81" y1="768.52" x2="459.87" y2="491.11" stroke="#00FF00" stroke-width="0.9" stroke-dasharray="3.3,5.4" stroke-opacity="0.85"/>
<text x="312.01" y="776.12" font-size="12.5" fill="#00FF00" text-anchor="middle" transform="rotate(-58 312.01 776.12)" dy="0.35em">2</text>
<line x1="247.08" y1="768.52" x2="398.33" y2="491.11" stroke="#00FF00" stroke-width="0.9" stroke-dasharray="3.3,5.4" stroke-opacity="0.85"/>
<text x="244.28" y="776.12" font-size="12.5" fill="#00FF00" text-anchor="middle" transform="rotate(-58 244.28 776.12)" dy="0.35em">1</text>
<polyline points="637.15,783.29 637.05,780.39 636.97,777.46 636.89,774.51 636.83,771.53 636.76,768.52 636.71,765.47 636.65,762.4 636.61,759.29 636.57,756.16 636.53,752.99 636.49,749.78 636.48,746.55 636.47,743.27 636.45,739.96 636.44,736.62 636.44,733.24 636.44,729.81 636.44,726.35 636.45,722.85 636.46,719.31 636.48,715.73 636.5,712.11 636.52,708.44 636.55,704.72 636.57,700.96 636.6,697.15 636.63,693.29 636.66,689.39 636.69,685.43 636.72,681.42 636.75,677.36 636.77,673.24 636.83,669.06 636.86,664.83 636.89,660.53 636.91,656.18 636.96,651.76 637.02,647.27 637.08,642.72 637.15,638.1 637.22,633.4 637.3,628.64 637.38,623.79 637.46,618.87 637.54,613.87 637.61,608.78 637.69,603.6 637.77,598.34 637.84,592.98 637.9,587.52 637.92,581.97 637.96,576.31 637.98,570.54 637.99,564.66 637.98,558.67 637.94,552.55 637.88,546.31 637.8,539.94 637.67,533.42 637.51,526.77 637.3,519.97 637.04,513.01 636.73,505.88 636.35,498.59 635.89,491.11 635.35,483.45 634.72,475.58 633.97,467.51 633.16,459.21 632.16,450.69 630.88,441.91 629.61,432.87 628.07,423.56 626.3,413.94 624.28,404.02 621.97,393.75 619.32,383.13 616.31,372.12 612.86,360.69 608.98,348.82 604.55,336.46 599.53,323.58" fill="none" stroke="#00FF00" stroke-width="0.6" stroke-opacity="0.55"/>
<text x="599.53" y="322.58" font-size="16" fill="#00FF00" text-anchor="middle" >32</text>
<polyline points="606.07,783.29 605.84,780.39 605.63,777.46 605.41,774.51 605.21,771.53 605.01,768.52 604.82,765.47 604.62,762.4 604.44,759.29 604.25,756.16 604.06,752.99 603.88,749.78 603.72,746.55 603.55,743.27 603.38,739.96 603.22,736.62 603.05,733.24 602.88,729.81 602.72,726.35 602.55,722.85 602.39,719.31 602.22,715.73 602.05,712.11 601.87,708.44 601.7,704.72 601.51,700.96 601.32,697.15 601.16,693.29 601,689.39 600.84,685.43 600.68,681.42 600.56,677.36 600.41,673.24 600.25,669.06 600.09,664.83 599.93,660.53 599.76,656.18 599.59,651.76 599.41,647.27 599.22,642.72 599.02,638.1 598.81,633.4 598.58,628.64 598.34,623.79 598.08,618.87 597.8,613.87 597.5,608.78 597.17,603.6 596.81,598.34 596.43,592.98 596.01,587.52 595.55,581.97 595.05,576.31 594.45,570.54 593.85,564.66 593.18,558.67 592.45,552.55 591.66,546.31 590.78,539.94 589.82,533.42 588.77,526.77 587.68,519.97 586.4,513.01 585,505.88 583.46,498.59 581.74,491.11 579.92,483.45 577.89,475.58 575.67,467.51 573.23,459.21 570.56,450.69 567.64,441.91 564.44,432.87 560.93,423.56 557.07,413.94 552.85,404.02 548.21,393.75 543.16,383.13 537.64,372.12 531.62,360.69 525.06,348.82 517.95,336.46 510.23,323.58" fill="none" stroke="#00FF00" stroke-width="0.6" stroke-opacity="0.55"/>
<text x="510.23" y="322.58" font-size="16" fill="#00FF00" text-anchor="middle" >28</text>
<polyline points="575.15,783.29 574.76,780.39 574.38,777.46 574,774.51 573.63,771.53 573.26,768.52 572.89,765.47 572.52,762.4 572.15,759.29 571.78,756.16 571.4,752.99 571.05,749.78 570.69,746.55 570.31,743.27 569.94,739.96 569.56,736.62 569.2,733.24 568.85,729.81 568.5,726.35 568.16,722.85 567.81,719.31 567.46,715.73 567.12,712.11 566.77,708.44 566.41,704.72 566.06,700.96 565.69,697.15 565.32,693.29 564.94,689.39 564.55,685.43 564.2,681.42 563.8,677.36 563.38,673.24 562.96,669.06 562.51,664.83 562.05,660.53 561.57,656.18 561.07,651.76 560.55,647.27 560,642.72 559.42,638.1 558.81,633.4 558.16,628.64 557.48,623.79 556.76,618.87 555.99,613.87 555.17,608.78 554.31,603.6 553.38,598.34 552.39,592.98 551.34,587.52 550.21,581.97 549.01,576.31 547.72,570.54 546.33,564.66 544.85,558.67 543.26,552.55 541.55,546.31 539.71,539.94 537.73,533.42 535.63,526.77 533.36,519.97 530.92,513.01 528.3,505.88 525.49,498.59 522.47,491.11 519.22,483.45 515.74,475.58 512,467.51 507.99,459.21 503.69,450.69 499.08,441.91 494.14,432.87 488.85,423.56 483.24,413.94 477.24,404.02 470.85,393.75 464.05,383.13 456.83,372.12 449.18,360.69 441.08,348.82 432.53,336.46 423.5,323.58" fill="none" stroke="#00FF00" stroke-width="0.6" stroke-opacity="0.55"/>
<text x="423.5" y="322.58" font-size="16" fill="#00FF00" text-anchor="middle" >24</text>
<polyline points="544.22,783.29 543.69,780.39 543.15,777.46 542.61,774.51 542.06,771.53 541.51,768.52 540.94,765.47 540.38,762.4 539.82,759.29 539.27,756.16 538.71,752.99 538.15,749.78 537.58,746.55 537.06,743.27 536.51,739.96 535.95,736.62 535.39,733.24 534.83,729.81 534.26,726.35 533.69,722.85 533.11,719.31 532.53,715.73 531.93,712.11 531.32,708.44 530.7,704.72 530.07,700.96 529.42,697.15 528.76,693.29 528.07,689.39 527.37,685.43 526.64,681.42 525.88,677.36 525.15,673.24 524.35,669.06 523.52,664.83 522.65,660.53 521.75,656.18 520.81,651.76 519.83,647.27 518.8,642.72 517.73,638.1 516.6,633.4 515.42,628.64 514.17,623.79 512.86,618.87 511.48,613.87 510.03,608.78 508.49,603.6 506.87,598.34 505.16,592.98 503.33,587.52 501.44,581.97 499.43,576.31 497.27,570.54 495.01,564.66 492.61,558.67 490.06,552.55 487.37,546.31 484.52,539.94 481.5,533.42 478.3,526.77 474.91,519.97 471.33,513.01 467.54,505.88 463.53,498.59 459.3,491.11 454.82,483.45 450.1,475.58 445.13,467.51 439.88,459.21 434.36,450.69 428.56,441.91 422.52,432.87 416.14,423.56 409.46,413.94 402.47,404.02 395.17,393.75 387.54,383.13 379.58,372.12 371.29,360.69 362.67,348.82 353.69,336.46 344.37,323.58" fill="none" stroke="#00FF00" stroke-width="0.6" stroke-opacity="0.55"/>
<text x="344.37" y="322.58" font-size="16" fill="#00FF00" text-anchor="middle" >20</text>
<polyline points="513.14,783.29 512.47,780.39 511.79,777.46 511.12,774.51 510.44,771.53 509.75,768.52 509.06,765.47 508.37,762.4 507.66,759.29 506.94,756.16 506.2,752.99 505.45,749.78 504.73,746.55 503.96,743.27 503.18,739.96 502.36,736.62 501.52,733.24 500.67,729.81 499.81,726.35 498.93,722.85 498.03,719.31 497.12,715.73 496.19,712.11 495.24,708.44 494.26,704.72 493.26,700.96 492.24,697.15 491.18,693.29 490.1,689.39 488.98,685.43 487.83,681.42 486.63,677.36 485.4,673.24 484.13,669.06 482.8,664.83 481.43,660.53 480.01,656.18 478.53,651.76 476.99,647.27 475.39,642.72 473.72,638.1 471.98,633.4 470.16,628.64 468.25,623.79 466.27,618.87 464.18,613.87 462.01,608.78 459.74,603.6 457.36,598.34 454.86,592.98 452.25,587.52 449.52,581.97 446.65,576.31 443.65,570.54 440.51,564.66 437.23,558.67 433.78,552.55 430.18,546.31 426.41,539.94 422.47,533.42 418.35,526.77 414.05,519.97 409.55,513.01 404.86,505.88 399.98,498.59 394.89,491.11 389.58,483.45 384.07,475.58 378.34,467.51 372.39,459.21 366.21,450.69 359.81,441.91 353.18,432.87 346.31,423.56 339.27,413.94 331.93,404.02 324.35,393.75 316.52,383.13 308.44,372.12 300.11,360.69 291.52,348.82 282.68,336.46 273.57,323.58" fill="none" stroke="#00FF00" stroke-width="0.6" stroke-opacity="0.55"/>
<text x="273.57" y="322.58" font-size="16" fill="#00FF00" text-anchor="middle" >16</text>
<polyline points="482.4,783.29 481.54,780.39 480.67,777.46 479.79,774.51 478.9,771.53 478,768.52 477.09,765.47 476.17,762.4 475.23,759.29 474.27,756.16 473.28,752.99 472.32,749.78 471.31,746.55 470.29,743.27 469.24,739.96 468.17,736.62 467.07,733.24 465.95,729.81 464.8,726.35 463.61,722.85 462.4,719.31 461.15,715.73 459.86,712.11 458.54,708.44 457.17,704.72 455.75,700.96 454.27,697.15 452.74,693.29 451.18,689.39 449.56,685.43 447.9,681.42 446.19,677.36 444.42,673.24 442.6,669.06 440.71,664.83 438.77,660.53 436.75,656.18 434.66,651.76 432.5,647.27 430.26,642.72 427.94,638.1 425.53,633.4 423.05,628.64 420.47,623.79 417.78,618.87 415,613.87 412.11,608.78 409.12,603.6 406.01,598.34 402.78,592.98 399.44,587.52 395.97,581.97 392.37,576.31 388.64,570.54 384.77,564.66 380.76,558.67 376.61,552.55 372.32,546.31 367.88,539.94 363.28,533.42 358.53,526.77 353.62,519.97 348.56,513.01 343.33,505.88 337.94,498.59 332.38,491.11 326.66,483.45 320.76,475.58 314.7,467.51 308.46,459.21 302.04,450.69 295.45,441.91 288.68,432.87 281.72,423.56 274.58,413.94 267.26,404.02 259.75,393.75 252.06,383.13 244.17,372.12 236.09,360.69 227.82,348.82 219.35,336.46 210.69,323.58" fill="none" stroke="#00FF00" stroke-width="0.6" stroke-opacity="0.55"/>
<text x="210.69" y="322.58" font-size="16" fill="#00FF00" text-anchor="middle" >12</text>
<polyline points="451.85,783.29 450.76,780.39 449.65,777.46 448.54,774.51 447.4,771.53 446.25,768.52 445.08,765.47 443.88,762.4 442.66,759.29 441.41,756.16 440.13,752.99 438.87,749.78 437.55,746.55 436.2,743.27 434.82,739.96 433.41,736.62 431.97,733.24 430.49,729.81 428.97,726.35 427.42,722.85 425.82,719.31 424.19,715.73 422.51,712.11 420.78,708.44 419,704.72 417.18,700.96 415.3,697.15 413.36,693.29 411.37,689.39 409.32,685.43 407.2,681.42 405.02,677.36 402.77,673.24 400.45,669.06 398.06,664.83 395.59,660.53 393.04,656.18 390.4,651.76 387.68,647.27 384.91,642.72 382.02,638.1 379.01,633.4 375.91,628.64 372.71,623.79 369.42,618.87 366.04,613.87 362.55,608.78 358.96,603.6 355.27,598.34 351.47,592.98 347.56,587.52 343.54,581.97 339.41,576.31 335.16,570.54 330.8,564.66 326.32,558.67 321.71,552.55 316.99,546.31 312.15,539.94 307.18,533.42 302.09,526.77 296.87,519.97 291.52,513.01 286.05,505.88 280.44,498.59 274.71,491.11 268.84,483.45 262.84,475.58 256.7,467.51 250.43,459.21 244.01,450.69 237.46,441.91 230.77,432.87 223.94,423.56 216.96,413.94 209.84,404.02 202.58,393.75 195.17,383.13 187.61,372.12 179.91,360.69 172.05,348.82 164.05,336.46 155.91,323.58" fill="none" stroke="#00FF00" stroke-width="0.6" stroke-opacity="0.55"/>
<text x="155.91" y="322.58" font-size="16" fill="#00FF00" text-anchor="middle" >8</text>
<polyline points="103.46,71.42 103.46,783.29 781.13,783.29 781.13,626.11 656.19,491.15 656.19,71.42 103.46,71.42" fill="none" stroke="#2b2b2b" stroke-width="0.9" />
<line x1="140.98" y1="783.29" x2="140.98" y2="793.29" stroke="#555" stroke-width="1.1" />
<text x="140.98" y="819.4" font-size="18" fill="#000" text-anchor="middle" >-20</text>
<line x1="229.18" y1="783.29" x2="229.18" y2="793.29" stroke="#555" stroke-width="1.1" />
<text x="229.18" y="819.4" font-size="18" fill="#000" text-anchor="middle" >0</text>
<line x1="317.38" y1="783.29" x2="317.38" y2="793.29" stroke="#555" stroke-width="1.1" />
<text x="317.38" y="819.4" font-size="18" fill="#000" text-anchor="middle" >20</text>
<line x1="405.58" y1="783.29" x2="405.58" y2="793.29" stroke="#555" stroke-width="1.1" />
<text x="405.58" y="819.4" font-size="18" fill="#000" text-anchor="middle" >40</text>
<line x1="493.78" y1="783.29" x2="493.78" y2="793.29" stroke="#555" stroke-width="1.1" />
<text x="493.78" y="819.4" font-size="18" fill="#000" text-anchor="middle" >60</text>
<line x1="581.98" y1="783.29" x2="581.98" y2="793.29" stroke="#555" stroke-width="1.1" />
<text x="581.98" y="819.4" font-size="18" fill="#000" text-anchor="middle" >80</text>
<line x1="670.18" y1="783.29" x2="670.18" y2="793.29" stroke="#555" stroke-width="1.1" />
<text x="670.18" y="819.4" font-size="18" fill="#000" text-anchor="middle" >100</text>
<line x1="758.38" y1="783.29" x2="758.38" y2="793.29" stroke="#555" stroke-width="1.1" />
<text x="758.38" y="819.4" font-size="18" fill="#000" text-anchor="middle" >120</text>
<text x="459.7" y="841.6" font-size="16.4" fill="#000" text-anchor="middle" >Temperature (F)</text>
<text x="90.6" y="775.12" font-size="18" fill="#000" text-anchor="end" >1000</text>
<text x="90.6" y="725.91" font-size="18" fill="#000" text-anchor="end" >850</text>
<text x="90.6" y="667.13" font-size="18" fill="#000" text-anchor="end" >700</text>
<text x="90.6" y="565.27" font-size="18" fill="#000" text-anchor="end" >500</text>
<text x="90.6" y="497.71" font-size="18" fill="#000" text-anchor="end" >400</text>
<text x="90.6" y="410.62" font-size="18" fill="#000" text-anchor="end" >300</text>
<text x="90.6" y="355.42" font-size="18" fill="#000" text-anchor="end" >250</text>
<text x="90.6" y="287.86" font-size="18" fill="#000" text-anchor="end" >200</text>
<text x="90.6" y="200.77" font-size="18" fill="#000" text-anchor="end" >150</text>
<text x="90.6" y="78.02" font-size="18" fill="#000" text-anchor="end" >100</text>
<text x="57.9" y="446" font-size="16.4" fill="#000" text-anchor="middle" transform="rotate(-90 57.9 446)" >P (hPa)</text>
<line x1="815.8" y1="71" x2="815.8" y2="783.4" stroke="#5c5c5c" stroke-width="1.5" />
<line x1="815.8" y1="772" x2="825.8" y2="772" stroke="#5c5c5c" stroke-width="1.2" />
<text x="837.2" y="778.3" font-size="18" fill="#000" text-anchor="start" >0</text>
<line x1="815.8" y1="736.2" x2="825.8" y2="736.2" stroke="#5c5c5c" stroke-width="1.2" />
<text x="837.2" y="742.5" font-size="18" fill="#000" text-anchor="start" >1</text>
<line x1="815.8" y1="699.4" x2="825.8" y2="699.4" stroke="#5c5c5c" stroke-width="1.2" />
<text x="837.2" y="705.7" font-size="18" fill="#000" text-anchor="start" >2</text>
<line x1="815.8" y1="661.2" x2="825.8" y2="661.2" stroke="#5c5c5c" stroke-width="1.2" />
<text x="837.2" y="667.5" font-size="18" fill="#000" text-anchor="start" >3</text>
<line x1="815.8" y1="622" x2="825.8" y2="622" stroke="#5c5c5c" stroke-width="1.2" />
<text x="837.2" y="628.3" font-size="18" fill="#000" text-anchor="start" >4</text>
<line x1="815.8" y1="581.6" x2="825.8" y2="581.6" stroke="#5c5c5c" stroke-width="1.2" />
<text x="837.2" y="587.9" font-size="18" fill="#000" text-anchor="start" >5</text>
<line x1="815.8" y1="541.2" x2="825.8" y2="541.2" stroke="#5c5c5c" stroke-width="1.2" />
<text x="837.2" y="547.5" font-size="18" fill="#000" text-anchor="start" >6</text>
<line x1="815.8" y1="499" x2="825.8" y2="499" stroke="#5c5c5c" stroke-width="1.2" />
<text x="837.2" y="505.3" font-size="18" fill="#000" text-anchor="start" >7</text>
<line x1="815.8" y1="455.4" x2="825.8" y2="455.4" stroke="#5c5c5c" stroke-width="1.2" />
<text x="837.2" y="461.7" font-size="18" fill="#000" text-anchor="start" >8</text>
<line x1="815.8" y1="411.4" x2="825.8" y2="411.4" stroke="#5c5c5c" stroke-width="1.2" />
<text x="837.2" y="417.7" font-size="18" fill="#000" text-anchor="start" >9</text>
<line x1="815.8" y1="365.5" x2="825.8" y2="365.5" stroke="#5c5c5c" stroke-width="1.2" />
<text x="837.2" y="371.8" font-size="18" fill="#000" text-anchor="start" >10</text>
<line x1="815.8" y1="318.3" x2="825.8" y2="318.3" stroke="#5c5c5c" stroke-width="1.2" />
<text x="837.2" y="324.6" font-size="18" fill="#000" text-anchor="start" >11</text>
<line x1="815.8" y1="271.3" x2="825.8" y2="271.3" stroke="#5c5c5c" stroke-width="1.2" />
<text x="837.2" y="277.6" font-size="18" fill="#000" text-anchor="start" >12</text>
<line x1="815.8" y1="223.4" x2="825.8" y2="223.4" stroke="#5c5c5c" stroke-width="1.2" />
<text x="837.2" y="229.7" font-size="18" fill="#000" text-anchor="start" >13</text>
<line x1="815.8" y1="176" x2="825.8" y2="176" stroke="#5c5c5c" stroke-width="1.2" />
<text x="837.2" y="182.3" font-size="18" fill="#000" text-anchor="start" >14</text>
<line x1="815.8" y1="128.2" x2="825.8" y2="128.2" stroke="#5c5c5c" stroke-width="1.2" />
<text x="837.2" y="134.5" font-size="18" fill="#000" text-anchor="start" >15</text>
<line x1="815.8" y1="81" x2="825.8" y2="81" stroke="#5c5c5c" stroke-width="1.2" />
<text x="837.2" y="87.3" font-size="18" fill="#000" text-anchor="start" >16</text>
<text x="795.5" y="451" font-size="18" fill="#000" text-anchor="middle" transform="rotate(90 795.5 451)" >Height (Km)</text>
<text x="364.3" y="39.2" font-size="19.55" fill="#000" text-anchor="middle" >Skew-T at Nogales valid 2025-12-17 10:00AM MST</text>
<text x="48.3" y="59.8" font-size="15.6" fill="#A0522D" text-anchor="start" >P<tspan font-size="10.3" letter-spacing="-0.25" dy="3.5">LCL</tspan><tspan dy="-3.5">=594 mb || T</tspan><tspan font-size="10.3" letter-spacing="-0.25" dy="3.5">LCL</tspan><tspan dy="-3.5">=-14</tspan><tspan font-size="11" dy="-6.5">o</tspan><tspan dy="6.5">C || PW=9 mm || CAPE=0 J || MCAPE=9.96921e+36 WBZ= -999 m</tspan></text>
<polyline points="331.7,71.3 261.4,153.75 221.1,221.7 259.1,276.3 297.3,363 326.6,398.2 350.5,432.2 351.3,440 358.1,497.3 362.1,523.1 370.8,560.6 378.5,575.2 405.9,600.9 409.8,611.9 406.1,622 388.5,640 380.9,649.4 375,659.9 368.6,670.5 360.9,679.3 351.6,686.3 338.7,693.9 322.3,703.3 318.75,708.6 319.3,713.8 318.5,719.7 325.8,723.8 335.2,726.7 344.3,727.7 344.8,730.8 345.9,732.6" fill="none" stroke="#4169E1" stroke-width="1.8" stroke-linejoin="round" />
<polyline points="408.1,71.3 376.5,153.75 375.3,193.6 373.9,221.7 364.1,276.3 359.6,323.2 366.9,363 382.8,398.2 397.3,420 412.5,441.1 454.7,497.3 469.9,524.3 482.8,558.3 499.2,593.4 512.1,620 524.5,640 532.7,655.2 543.3,670.5 551.5,684.5 556.2,695.1 558.3,704.5 557.3,710.3 556.2,713.8 559.5,719.7 552.7,723.8 545.6,727.3 550.3,730.8 556.4,732.4" fill="none" stroke="#000" stroke-width="1.8" stroke-linejoin="round" />
<line x1="736.5" y1="71.2" x2="736.5" y2="773" stroke="#666" stroke-width="0.7"/>
<circle cx="736.5" cy="117.4" r="1.9" fill="#000"/>
<circle cx="736.5" cy="189.5" r="1.9" fill="#000"/>
<circle cx="736.5" cy="262.8" r="1.9" fill="#000"/>
<circle cx="736.5" cy="334.4" r="1.9" fill="#000"/>
<circle cx="736.5" cy="404.4" r="1.9" fill="#000"/>
<circle cx="736.5" cy="472.4" r="1.9" fill="#000"/>
<circle cx="736.5" cy="537.2" r="1.9" fill="#000"/>
<circle cx="736.5" cy="562.4" r="1.9" fill="#000"/>
<circle cx="736.5" cy="587.4" r="1.9" fill="#000"/>
<circle cx="736.5" cy="611.6" r="1.9" fill="#000"/>
<circle cx="736.5" cy="635.7" r="1.9" fill="#000"/>
<circle cx="736.5" cy="659.3" r="1.9" fill="#000"/>
<circle cx="736.5" cy="671" r="1.9" fill="#000"/>
<circle cx="736.5" cy="682.8" r="1.9" fill="#000"/>
<circle cx="736.5" cy="694.3" r="1.9" fill="#000"/>
<circle cx="736.5" cy="705.7" r="1.9" fill="#000"/>
<circle cx="736.5" cy="717.2" r="1.9" fill="#000"/>
<circle cx="736.5" cy="728.3" r="1.9" fill="#000"/>
<circle cx="736.5" cy="739.7" r="1.9" fill="#000"/>
<circle cx="736.5" cy="751" r="1.9" fill="#000"/>
<circle cx="736.5" cy="762" r="1.9" fill="#000"/>
<circle cx="736.5" cy="773" r="1.9" fill="#000"/>
<circle cx="736.5" cy="193.9" r="3.4" fill="none" stroke="#333" stroke-width="0.8"/>
<circle cx="736.5" cy="281.4" r="3.4" fill="none" stroke="#333" stroke-width="0.8"/>
<circle cx="736.5" cy="348.9" r="3.4" fill="none" stroke="#333" stroke-width="0.8"/>
<circle cx="736.5" cy="404.4" r="3.4" fill="none" stroke="#333" stroke-width="0.8"/>
<circle cx="736.5" cy="491.4" r="3.4" fill="none" stroke="#333" stroke-width="0.8"/>
<circle cx="736.5" cy="558.6" r="3.4" fill="none" stroke="#333" stroke-width="0.8"/>
<circle cx="736.5" cy="660.7" r="3.4" fill="none" stroke="#333" stroke-width="0.8"/>
<circle cx="736.5" cy="719.6" r="3.4" fill="none" stroke="#333" stroke-width="0.8"/>
<circle cx="736.5" cy="768.7" r="3.4" fill="none" stroke="#333" stroke-width="0.8"/>
<path d="M733,71.2 A3.5,3.5 0 0 0 740,71.2" fill="none" stroke="#333" stroke-width="0.8"/>
<line x1="736.5" y1="154.5" x2="705.57" y2="143" stroke="#333" stroke-width="0.75"/>
<line x1="705.57" y1="143" x2="704.52" y2="132.04" stroke="#333" stroke-width="0.75"/>
<line x1="708.66" y1="144.15" x2="707.61" y2="133.2" stroke="#333" stroke-width="0.75"/>
<line x1="711.76" y1="145.3" x2="710.71" y2="134.35" stroke="#333" stroke-width="0.75"/>
<line x1="714.85" y1="146.45" x2="713.8" y2="135.5" stroke="#333" stroke-width="0.75"/>
<line x1="717.94" y1="147.6" x2="717.42" y2="142.12" stroke="#333" stroke-width="0.75"/>
<line x1="736.5" y1="221.6" x2="708.58" y2="204.02" stroke="#333" stroke-width="0.75"/>
<line x1="708.58" y1="204.02" x2="709.79" y2="193.08" stroke="#333" stroke-width="0.75"/>
<line x1="711.37" y1="205.77" x2="712.58" y2="194.84" stroke="#333" stroke-width="0.75"/>
<line x1="714.16" y1="207.53" x2="715.37" y2="196.6" stroke="#333" stroke-width="0.75"/>
<line x1="716.95" y1="209.29" x2="718.17" y2="198.36" stroke="#333" stroke-width="0.75"/>
<line x1="719.75" y1="211.05" x2="720.35" y2="205.58" stroke="#333" stroke-width="0.75"/>
<line x1="736.5" y1="277.2" x2="712.9" y2="247.42" stroke="#111" stroke-width="1.1"/>
<polygon points="712.9,247.42 719.95,241.83 715.94,251.26" fill="#000" stroke="#000" stroke-width="0.6"/>
<line x1="736.5" y1="323.5" x2="717.5" y2="290.59" stroke="#111" stroke-width="1.1"/>
<polygon points="717.5,290.59 725.29,286.09 719.95,294.83" fill="#000" stroke="#000" stroke-width="0.6"/>
<line x1="721.4" y1="297.35" x2="724.49" y2="292.79" stroke="#111" stroke-width="1.1"/>
<line x1="736.5" y1="363.7" x2="719.25" y2="329.84" stroke="#111" stroke-width="1.1"/>
<polygon points="719.25,329.84 727.27,325.76 721.47,334.21" fill="#000" stroke="#000" stroke-width="0.6"/>
<line x1="722.79" y1="336.79" x2="729.43" y2="328.02" stroke="#111" stroke-width="1.1"/>
<line x1="736.5" y1="398.2" x2="719.43" y2="364.25" stroke="#111" stroke-width="1.1"/>
<polygon points="719.43,364.25 727.47,360.21 721.63,368.63" fill="#000" stroke="#000" stroke-width="0.6"/>
<line x1="722.93" y1="371.22" x2="726.27" y2="366.85" stroke="#111" stroke-width="1.1"/>
<line x1="736.5" y1="432.9" x2="720.45" y2="404.07" stroke="#333" stroke-width="0.75"/>
<line x1="720.45" y1="404.07" x2="726.77" y2="395.06" stroke="#333" stroke-width="0.75"/>
<line x1="722.06" y1="406.95" x2="728.37" y2="397.94" stroke="#333" stroke-width="0.75"/>
<line x1="723.66" y1="409.83" x2="729.98" y2="400.82" stroke="#333" stroke-width="0.75"/>
<line x1="725.27" y1="412.72" x2="731.58" y2="403.71" stroke="#333" stroke-width="0.75"/>
<line x1="726.87" y1="415.6" x2="730.03" y2="411.09" stroke="#333" stroke-width="0.75"/>
<line x1="736.5" y1="468.7" x2="718.19" y2="441.25" stroke="#333" stroke-width="0.75"/>
<line x1="718.19" y1="441.25" x2="723.76" y2="431.76" stroke="#333" stroke-width="0.75"/>
<line x1="720.02" y1="443.99" x2="725.59" y2="434.5" stroke="#333" stroke-width="0.75"/>
<line x1="721.85" y1="446.74" x2="727.43" y2="437.25" stroke="#333" stroke-width="0.75"/>
<line x1="723.68" y1="449.48" x2="729.26" y2="440" stroke="#333" stroke-width="0.75"/>
<line x1="736.5" y1="498.7" x2="717.57" y2="471.67" stroke="#333" stroke-width="0.75"/>
<line x1="717.57" y1="471.67" x2="722.93" y2="462.06" stroke="#333" stroke-width="0.75"/>
<line x1="719.46" y1="474.37" x2="724.82" y2="464.76" stroke="#333" stroke-width="0.75"/>
<line x1="721.36" y1="477.07" x2="726.71" y2="467.46" stroke="#333" stroke-width="0.75"/>
<line x1="723.25" y1="479.78" x2="728.61" y2="470.17" stroke="#333" stroke-width="0.75"/>
<line x1="725.14" y1="482.48" x2="727.82" y2="477.68" stroke="#333" stroke-width="0.75"/>
<line x1="736.5" y1="523.7" x2="718.77" y2="495.87" stroke="#333" stroke-width="0.75"/>
<line x1="718.77" y1="495.87" x2="724.54" y2="486.5" stroke="#333" stroke-width="0.75"/>
<line x1="720.54" y1="498.65" x2="726.31" y2="489.28" stroke="#333" stroke-width="0.75"/>
<line x1="722.32" y1="501.43" x2="728.09" y2="492.07" stroke="#333" stroke-width="0.75"/>
<line x1="724.09" y1="504.22" x2="729.86" y2="494.85" stroke="#333" stroke-width="0.75"/>
<line x1="725.86" y1="507" x2="728.75" y2="502.32" stroke="#333" stroke-width="0.75"/>
<line x1="736.5" y1="544.2" x2="720.7" y2="515.23" stroke="#333" stroke-width="0.75"/>
<line x1="720.7" y1="515.23" x2="727.1" y2="506.27" stroke="#333" stroke-width="0.75"/>
<line x1="722.28" y1="518.12" x2="728.68" y2="509.17" stroke="#333" stroke-width="0.75"/>
<line x1="723.86" y1="521.02" x2="730.26" y2="512.07" stroke="#333" stroke-width="0.75"/>
<line x1="725.44" y1="523.92" x2="731.84" y2="514.97" stroke="#333" stroke-width="0.75"/>
<line x1="727.02" y1="526.82" x2="730.22" y2="522.34" stroke="#333" stroke-width="0.75"/>
<line x1="736.5" y1="558.6" x2="720.8" y2="529.57" stroke="#333" stroke-width="0.75"/>
<line x1="720.8" y1="529.57" x2="727.23" y2="520.64" stroke="#333" stroke-width="0.75"/>
<line x1="722.37" y1="532.47" x2="728.8" y2="523.54" stroke="#333" stroke-width="0.75"/>
<line x1="723.94" y1="535.38" x2="730.37" y2="526.45" stroke="#333" stroke-width="0.75"/>
<line x1="725.51" y1="538.28" x2="731.94" y2="529.35" stroke="#333" stroke-width="0.75"/>
<line x1="736.5" y1="575.8" x2="720.2" y2="547.11" stroke="#333" stroke-width="0.75"/>
<line x1="720.2" y1="547.11" x2="726.44" y2="538.04" stroke="#333" stroke-width="0.75"/>
<line x1="721.83" y1="549.98" x2="728.07" y2="540.91" stroke="#333" stroke-width="0.75"/>
<line x1="723.46" y1="552.85" x2="729.7" y2="543.78" stroke="#333" stroke-width="0.75"/>
<line x1="725.09" y1="555.71" x2="728.21" y2="551.18" stroke="#333" stroke-width="0.75"/>
<line x1="736.5" y1="587.2" x2="716.78" y2="560.74" stroke="#333" stroke-width="0.75"/>
<line x1="716.78" y1="560.74" x2="721.85" y2="550.98" stroke="#333" stroke-width="0.75"/>
<line x1="718.75" y1="563.39" x2="723.82" y2="553.62" stroke="#333" stroke-width="0.75"/>
<line x1="720.72" y1="566.03" x2="725.79" y2="556.27" stroke="#333" stroke-width="0.75"/>
<line x1="736.5" y1="601.5" x2="714.5" y2="576.9" stroke="#333" stroke-width="0.75"/>
<line x1="714.5" y1="576.9" x2="718.69" y2="566.72" stroke="#333" stroke-width="0.75"/>
<line x1="716.7" y1="579.36" x2="720.88" y2="569.18" stroke="#333" stroke-width="0.75"/>
<line x1="718.9" y1="581.82" x2="723.08" y2="571.64" stroke="#333" stroke-width="0.75"/>
<line x1="736.5" y1="611.6" x2="712.13" y2="589.35" stroke="#333" stroke-width="0.75"/>
<line x1="712.13" y1="589.35" x2="715.26" y2="578.8" stroke="#333" stroke-width="0.75"/>
<line x1="714.57" y1="591.57" x2="717.7" y2="581.03" stroke="#333" stroke-width="0.75"/>
<line x1="717" y1="593.8" x2="718.57" y2="588.52" stroke="#333" stroke-width="0.75"/>
<line x1="736.5" y1="622.1" x2="711.75" y2="600.28" stroke="#333" stroke-width="0.75"/>
<line x1="711.75" y1="600.28" x2="714.69" y2="589.68" stroke="#333" stroke-width="0.75"/>
<line x1="714.22" y1="602.46" x2="717.17" y2="591.86" stroke="#333" stroke-width="0.75"/>
<line x1="716.7" y1="604.64" x2="718.17" y2="599.34" stroke="#333" stroke-width="0.75"/>
<line x1="736.5" y1="632.4" x2="712.09" y2="610.19" stroke="#333" stroke-width="0.75"/>
<line x1="712.09" y1="610.19" x2="715.2" y2="599.64" stroke="#333" stroke-width="0.75"/>
<line x1="714.53" y1="612.41" x2="717.65" y2="601.86" stroke="#333" stroke-width="0.75"/>
<line x1="736.5" y1="640.2" x2="714.42" y2="615.68" stroke="#2a2a2a" stroke-width="0.65"/>
<line x1="714.42" y1="615.68" x2="718.56" y2="605.48" stroke="#2a2a2a" stroke-width="0.65"/>
<line x1="716.63" y1="618.13" x2="720.77" y2="607.94" stroke="#2a2a2a" stroke-width="0.65"/>
<line x1="736.5" y1="646" x2="716.79" y2="619.53" stroke="#2a2a2a" stroke-width="0.65"/>
<line x1="716.79" y1="619.53" x2="721.86" y2="609.77" stroke="#2a2a2a" stroke-width="0.65"/>
<line x1="718.76" y1="622.18" x2="721.3" y2="617.3" stroke="#2a2a2a" stroke-width="0.65"/>
<line x1="736.5" y1="651.5" x2="719.21" y2="623.39" stroke="#2a2a2a" stroke-width="0.65"/>
<line x1="719.21" y1="623.39" x2="725.13" y2="614.12" stroke="#2a2a2a" stroke-width="0.65"/>
<line x1="720.94" y1="626.2" x2="723.9" y2="621.57" stroke="#2a2a2a" stroke-width="0.65"/>
<line x1="736.5" y1="657" x2="721.79" y2="627.46" stroke="#2a2a2a" stroke-width="0.65"/>
<line x1="721.79" y1="627.46" x2="728.52" y2="618.75" stroke="#2a2a2a" stroke-width="0.65"/>
<line x1="723.26" y1="630.41" x2="726.62" y2="626.06" stroke="#2a2a2a" stroke-width="0.65"/>
<line x1="736.5" y1="662.5" x2="724.49" y2="631.76" stroke="#2a2a2a" stroke-width="0.65"/>
<line x1="724.49" y1="631.76" x2="731.97" y2="623.69" stroke="#2a2a2a" stroke-width="0.65"/>
<line x1="725.7" y1="634.84" x2="729.43" y2="630.8" stroke="#2a2a2a" stroke-width="0.65"/>
<line x1="736.5" y1="668" x2="726.58" y2="636.53" stroke="#2a2a2a" stroke-width="0.65"/>
<line x1="726.58" y1="636.53" x2="734.58" y2="628.97" stroke="#2a2a2a" stroke-width="0.65"/>
<line x1="727.57" y1="639.67" x2="731.57" y2="635.9" stroke="#2a2a2a" stroke-width="0.65"/>
<line x1="736.5" y1="673.5" x2="727.98" y2="641.62" stroke="#2a2a2a" stroke-width="0.65"/>
<line x1="727.98" y1="641.62" x2="736.3" y2="634.43" stroke="#2a2a2a" stroke-width="0.65"/>
<line x1="728.83" y1="644.81" x2="732.99" y2="641.21" stroke="#2a2a2a" stroke-width="0.65"/>
<line x1="736.5" y1="679" x2="728.21" y2="647.06" stroke="#2a2a2a" stroke-width="0.65"/>
<line x1="728.21" y1="647.06" x2="736.58" y2="639.93" stroke="#2a2a2a" stroke-width="0.65"/>
<line x1="729.04" y1="650.25" x2="733.22" y2="646.69" stroke="#2a2a2a" stroke-width="0.65"/>
<line x1="736.5" y1="684.5" x2="728.43" y2="652.5" stroke="#2a2a2a" stroke-width="0.65"/>
<line x1="728.43" y1="652.5" x2="736.86" y2="645.43" stroke="#2a2a2a" stroke-width="0.65"/>
<line x1="729.24" y1="655.7" x2="733.45" y2="652.16" stroke="#2a2a2a" stroke-width="0.65"/>
<line x1="736.5" y1="690" x2="728.66" y2="657.94" stroke="#2a2a2a" stroke-width="0.65"/>
<line x1="728.66" y1="657.94" x2="737.14" y2="650.93" stroke="#2a2a2a" stroke-width="0.65"/>
<line x1="729.45" y1="661.15" x2="733.68" y2="657.64" stroke="#2a2a2a" stroke-width="0.65"/>
<line x1="736.5" y1="695" x2="728.87" y2="662.89" stroke="#2a2a2a" stroke-width="0.65"/>
<line x1="728.87" y1="662.89" x2="737.39" y2="655.94" stroke="#2a2a2a" stroke-width="0.65"/>
<line x1="736.5" y1="700" x2="729.08" y2="667.85" stroke="#2a2a2a" stroke-width="0.65"/>
<line x1="729.08" y1="667.85" x2="737.64" y2="660.94" stroke="#2a2a2a" stroke-width="0.65"/>
<line x1="736.5" y1="705" x2="729.66" y2="672.72" stroke="#2a2a2a" stroke-width="0.65"/>
<line x1="729.66" y1="672.72" x2="738.34" y2="665.97" stroke="#2a2a2a" stroke-width="0.65"/>
<line x1="736.5" y1="710" x2="730.24" y2="677.6" stroke="#2a2a2a" stroke-width="0.65"/>
<line x1="730.86" y1="680.84" x2="735.27" y2="677.54" stroke="#2a2a2a" stroke-width="0.65"/>
<line x1="736.5" y1="714.5" x2="730.76" y2="682" stroke="#2a2a2a" stroke-width="0.65"/>
<line x1="731.34" y1="685.25" x2="735.79" y2="682.03" stroke="#2a2a2a" stroke-width="0.65"/>
<line x1="736.5" y1="718.5" x2="731.22" y2="685.93" stroke="#2a2a2a" stroke-width="0.65"/>
<line x1="736.5" y1="720.4" x2="725.32" y2="689.35" stroke="#2a2a2a" stroke-width="0.65"/>
<line x1="736.5" y1="721" x2="725.32" y2="689.95" stroke="#2a2a2a" stroke-width="0.65"/>
<line x1="736.5" y1="721.6" x2="725.32" y2="690.55" stroke="#2a2a2a" stroke-width="0.65"/>
<line x1="736.5" y1="722.6" x2="731.74" y2="689.95" stroke="#2a2a2a" stroke-width="0.65"/>
<line x1="736.5" y1="724" x2="733.62" y2="691.13" stroke="#2a2a2a" stroke-width="0.65"/>
<line x1="736.5" y1="725.3" x2="735.49" y2="692.32" stroke="#2a2a2a" stroke-width="0.65"/>
<line x1="736.5" y1="726.6" x2="738.27" y2="693.65" stroke="#2a2a2a" stroke-width="0.65"/>
<line x1="736.5" y1="727.8" x2="741.78" y2="695.22" stroke="#2a2a2a" stroke-width="0.65"/>
<line x1="736.5" y1="728.4" x2="745.21" y2="696.57" stroke="#2a2a2a" stroke-width="0.65"/>
<line x1="736.5" y1="729" x2="749.18" y2="698.53" stroke="#2a2a2a" stroke-width="0.65"/>
<line x1="736.5" y1="730" x2="752.9" y2="701.36" stroke="#2a2a2a" stroke-width="0.65"/>
<line x1="736.5" y1="730.6" x2="755.1" y2="703.34" stroke="#2a2a2a" stroke-width="0.65"/>
<line x1="736.5" y1="731" x2="755.63" y2="704.11" stroke="#2a2a2a" stroke-width="0.65"/>
<line x1="736.5" y1="731.3" x2="756.04" y2="704.7" stroke="#2a2a2a" stroke-width="0.65"/>
<line x1="736.5" y1="731.6" x2="756.45" y2="705.31" stroke="#2a2a2a" stroke-width="0.65"/>
<line x1="736.5" y1="731.9" x2="756.74" y2="705.84" stroke="#2a2a2a" stroke-width="0.65"/>
</svg>
</body></html>
